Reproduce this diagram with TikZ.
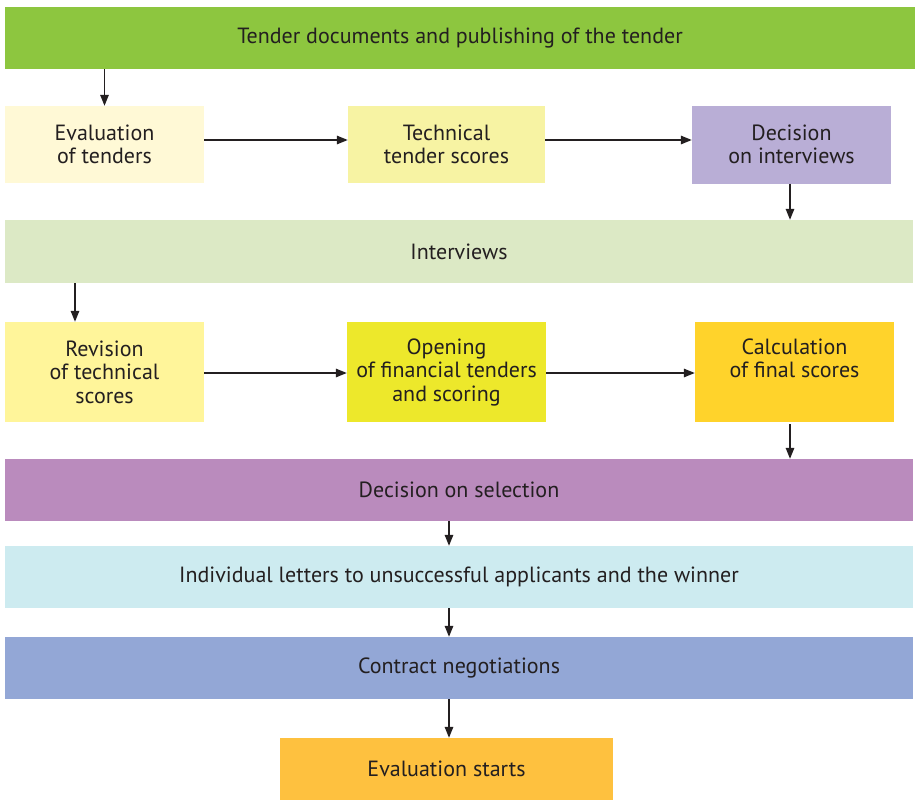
\documentclass[tikz,border=0pt]{standalone}
\usepackage{fontspec}
\setmainfont{PT Sans}
\usetikzlibrary{arrows.meta}

\definecolor{ink}{HTML}{231F20}
\definecolor{cTop}{HTML}{8DC63F}
\definecolor{cEval}{HTML}{FFF9D6}
\definecolor{cTech}{HTML}{F7F3A3}
\definecolor{cDecInt}{HTML}{B9AED6}
\definecolor{cInt}{HTML}{DCE9C5}
\definecolor{cRev}{HTML}{FFF59A}
\definecolor{cOpen}{HTML}{EDE82B}
\definecolor{cCalc}{HTML}{FFD32B}
\definecolor{cSel}{HTML}{BA8BBD}
\definecolor{cLet}{HTML}{CDEBF0}
\definecolor{cCon}{HTML}{93A7D6}
\definecolor{cStart}{HTML}{FEC13F}

\begin{document}
\begin{tikzpicture}[x=1pt,y=-1pt,
  stage/.style={rectangle, inner sep=0pt, draw=none, text=ink, align=center,
    font=\fontsize{22}{23.5}\selectfont},
  flow/.style={draw=ink, line width=1.4pt,
    -{Triangle[length=11pt,width=8.5pt]}}]
\useasboundingbox (0,0) rectangle (915,800);

% wide bars
\node[stage, fill=cTop, minimum width=910pt, minimum height=62pt] (top) at (460,38) {Tender documents and publishing of the tender};
\node[stage, fill=cInt, minimum width=908pt, minimum height=63pt] (interviews) at (459,251.5) {Interviews};
\node[stage, fill=cSel, minimum width=908pt, minimum height=62pt] (selection) at (459,490) {Decision on selection};
\node[stage, fill=cLet, minimum width=908pt, minimum height=62pt] (letters) at (459,577) {Individual letters to unsuccessful applicants and the winner};
\node[stage, fill=cCon, minimum width=908pt, minimum height=62pt] (contract) at (459,668) {Contract negotiations};
\node[stage, fill=cStart, minimum width=333pt, minimum height=62pt] (start) at (446.5,769) {Evaluation starts};

% first row of steps
\node[stage, fill=cEval, minimum width=199pt, minimum height=77pt] (eval) at (104.5,144.5) {Evaluation\\of tenders};
\node[stage, fill=cTech, minimum width=197pt, minimum height=77pt] (tech) at (446.5,144.5) {Technical\\tender scores};
\node[stage, fill=cDecInt, minimum width=199pt, minimum height=78pt] (decint) at (791.5,144.5) {Decision\\on interviews};

% second row of steps (the two-line box keeps a blank third line so its text sits like its neighbours)
\node[stage, fill=cRev, minimum width=199pt, minimum height=100pt] (rev) at (104.5,372) {Revision\\of technical\\scores};
\node[stage, fill=cOpen, minimum width=199pt, minimum height=100pt] (open) at (446.5,372) {Opening\\of financial tenders\\and scoring};
\node[stage, fill=cCalc, minimum width=199pt, minimum height=100pt] (calc) at (794.5,372) {Calculation\\of final scores\\\vphantom{and scoring}};

% helper columns for the vertical connectors
\coordinate (colA) at (75,0);
\coordinate (colB) at (790,0);
\coordinate (colC) at (449,0);

% connectors
\draw[flow] (eval.north |- top.south) -- (eval.north);
\draw[flow] ([yshift=4.5pt]eval.east) -- ([yshift=4.5pt]tech.west);
\draw[flow] ([yshift=4.5pt]tech.east) -- ([yshift=4.5pt]decint.west);
\draw[flow] (decint.south -| colB) -- (interviews.north -| colB);
\draw[flow] (interviews.south -| colA) -- (rev.north -| colA);
\draw[flow] ([yshift=-1pt]rev.east) -- ([yshift=-1pt]open.west);
\draw[flow] ([yshift=-1pt]open.east) -- ([yshift=-1pt]calc.west);
\draw[flow] ([yshift=-2pt]calc.south -| colB) -- (selection.north -| colB);
\draw[flow] (selection.south -| colC) -- (letters.north -| colC);
\draw[flow] (letters.south -| colC) -- (contract.north -| colC);
\draw[flow] (contract.south -| colC) -- (start.north -| colC);
\end{tikzpicture}
\end{document}
